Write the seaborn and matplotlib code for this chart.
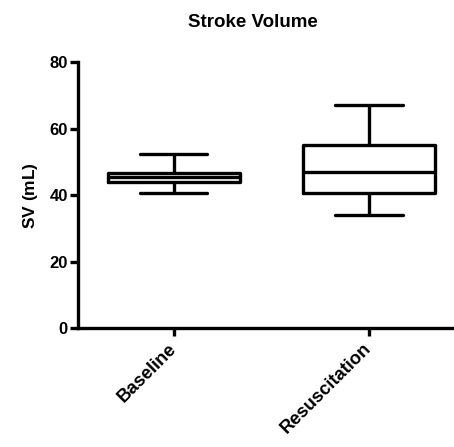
import matplotlib
matplotlib.use("Agg")
import matplotlib.pyplot as plt
import seaborn as sns
import pandas as pd

# Five-number summaries (min, Q1, median, Q3, max) of stroke volume, mL
groups = ["Baseline", "Resuscitation"]
baseline_sv = [40.7, 43.9, 45.4, 46.7, 52.5]
resuscitation_sv = [33.9, 40.5, 47.0, 55.0, 67.2]
yticks = [0, 20, 40, 60, 80]

df = pd.DataFrame({
    "group": [groups[0]] * len(baseline_sv) + [groups[1]] * len(resuscitation_sv),
    "sv": baseline_sv + resuscitation_sv,
})

sns.set_style("ticks")
plt.rcParams["font.family"] = ["Liberation Sans", "DejaVu Sans"]
plt.rcParams["font.weight"] = "bold"
plt.rcParams["text.color"] = "black"
plt.rcParams["axes.labelcolor"] = "black"
plt.rcParams["xtick.color"] = "black"
plt.rcParams["ytick.color"] = "black"

fig = plt.figure(figsize=(4.54, 4.47), dpi=100)
ax = fig.add_axes([0.172, 0.266, 0.828, 0.595])

lw = 2.4
sns.boxplot(
    data=df, x="group", y="sv", order=groups, ax=ax,
    whis=(0, 100), width=0.675, fill=False, color="black",
    linewidth=lw,
    boxprops=dict(color="black", linewidth=lw),
    medianprops=dict(color="black", linewidth=lw),
    whiskerprops=dict(color="black", linewidth=lw),
    capprops=dict(color="black", linewidth=lw),
    capwidths=0.345,
)

ax.set_xlim(-0.49, 1.436)
ax.set_ylim(0, 80)
ax.set_yticks(yticks)
ax.set_yticklabels([str(v) for v in yticks], fontsize=12, fontweight="bold",
                   color="black")
ax.set_xticks([0, 1])
ax.set_xticklabels(groups, rotation=45, ha="right", va="center",
                   rotation_mode="anchor", fontsize=13.2, fontweight="bold",
                   color="black")
ax.set_xlabel("")
ax.set_ylabel(r"SV ($\mathregular{m}$L)", fontsize=12.5, fontweight="bold",
              color="black", labelpad=7)
ax.set_title("Stroke Volume", fontsize=13.5, fontweight="bold", color="black",
             pad=25, x=0.465)

for side in ["top", "right"]:
    ax.spines[side].set_visible(False)
for side in ["left", "bottom"]:
    ax.spines[side].set_linewidth(lw)
    ax.spines[side].set_color("black")
ax.tick_params(axis="y", width=lw, length=6, color="black", pad=1.5)
ax.tick_params(axis="x", width=lw, length=6, color="black", pad=7)

fig.savefig("out.png", dpi=100)
